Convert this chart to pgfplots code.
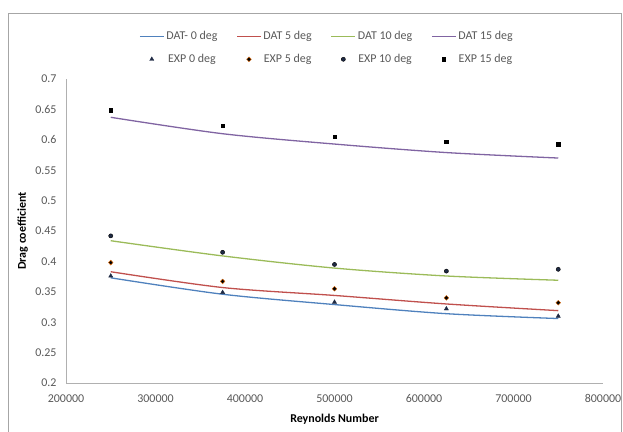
\documentclass[border=0pt]{standalone}
\usepackage{fontspec}
\setmainfont{Carlito}
\usepackage{pgfplots}
\pgfplotsset{compat=1.18}
\definecolor{cblue}{HTML}{4F81BD}
\definecolor{cred}{HTML}{C0504D}
\definecolor{cgreen}{HTML}{9BBB59}
\definecolor{cpurple}{HTML}{8064A2}
\definecolor{tickgray}{HTML}{595959}
\definecolor{axgray}{HTML}{B0B0B0}
\definecolor{cnavy}{HTML}{1F2A44}
\definecolor{corange}{HTML}{E46C0A}
\begin{document}
\begin{tikzpicture}
\useasboundingbox (0,0) rectangle (623bp,432bp);
\draw[gray!70, line width=0.8pt] (8.7bp,-10bp) rectangle (621.5bp,419bp);
\begin{axis}[
  at={(66bp,49bp)}, anchor=south west,
  width=537bp, height=304bp, scale only axis,
  xmin=200000, xmax=800000, ymin=0.2, ymax=0.7,
  axis lines*=left,
  axis line style={axgray, line width=0.8pt},
  major tick length=0pt,
  scaled x ticks=false, scaled y ticks=false,
  xtick={200000,300000,400000,500000,600000,700000,800000},
  xticklabels={200000,300000,400000,500000,600000,700000,800000},
  ytick={0.2,0.25,0.3,0.35,0.4,0.45,0.5,0.55,0.6,0.65,0.7},
  yticklabels={0.2,0.25,0.3,0.35,0.4,0.45,0.5,0.55,0.6,0.65,0.7},
  ticklabel style={font=\fontsize{12}{14}\selectfont, text=tickgray},
  xticklabel style={yshift=-8bp},
  yticklabel style={xshift=-6bp},
  /pgf/number format/assume math mode=true,
  xlabel={\textbf{Reynolds Number}},
  ylabel={\textbf{Drag coefficient}},
  label style={font=\fontsize{12}{14}\selectfont},
  xlabel style={at={(axis description cs:0.5,-0.12)}, anchor=center},
  ylabel style={at={(axis description cs:-0.0805,0.5)}, anchor=center},
  legend columns=4,
  legend style={draw=none, fill=none, at={(0.486,1.035)}, anchor=south,
    font=\fontsize{12}{14}\selectfont, text=tickgray,
    /tikz/every even column/.append style={column sep=17bp},
    row sep=9bp},
  legend image code/.code={\draw[mark repeat=2,mark phase=2,#1] plot coordinates {(0cm,0cm) (0.42cm,0cm) (0.84cm,0cm)};},
]
\addplot[cblue, line width=1.3pt, smooth, tension=0.5] coordinates {(250000,0.373) (375000,0.346) (500000,0.329) (625000,0.314) (750000,0.306)};
\addlegendentry{DAT- 0 deg}
\addplot[cred, line width=1.3pt, smooth, tension=0.5] coordinates {(250000,0.383) (375000,0.357) (500000,0.344) (625000,0.330) (750000,0.319)};
\addlegendentry{DAT 5 deg}
\addplot[cgreen, line width=1.3pt, smooth, tension=0.5] coordinates {(250000,0.434) (375000,0.409) (500000,0.389) (625000,0.376) (750000,0.369)};
\addlegendentry{DAT 10 deg}
\addplot[cpurple, line width=1.3pt, smooth, tension=0.5] coordinates {(250000,0.637) (375000,0.610) (500000,0.593) (625000,0.579) (750000,0.570)};
\addlegendentry{DAT 15 deg}
\addplot[only marks, mark=triangle*, mark size=2.4pt, draw=cnavy, fill=cnavy] coordinates {(250000,0.376) (375000,0.349) (500000,0.333) (625000,0.322) (750000,0.310)};
\addlegendentry{EXP 0 deg}
\addplot[only marks, mark=diamond*, mark size=2.4pt, mark options={xscale=1.3}, draw=corange, fill=black] coordinates {(250000,0.398) (375000,0.367) (500000,0.355) (625000,0.340) (750000,0.332)};
\addlegendentry{EXP 5 deg}
\addplot[only marks, mark=*, mark size=2.1pt, draw=black, fill=cnavy] coordinates {(250000,0.442) (375000,0.415) (500000,0.395) (625000,0.384) (750000,0.387)};
\addlegendentry{EXP 10 deg}
\addplot[only marks, mark=square*, mark size=1.8pt, draw=black, fill=black] coordinates {(250000,0.649) (375000,0.623) (500000,0.605) (625000,0.597) (750000,0.593)};
\addlegendentry{EXP 15 deg}
\end{axis}
\end{tikzpicture}
\end{document}
